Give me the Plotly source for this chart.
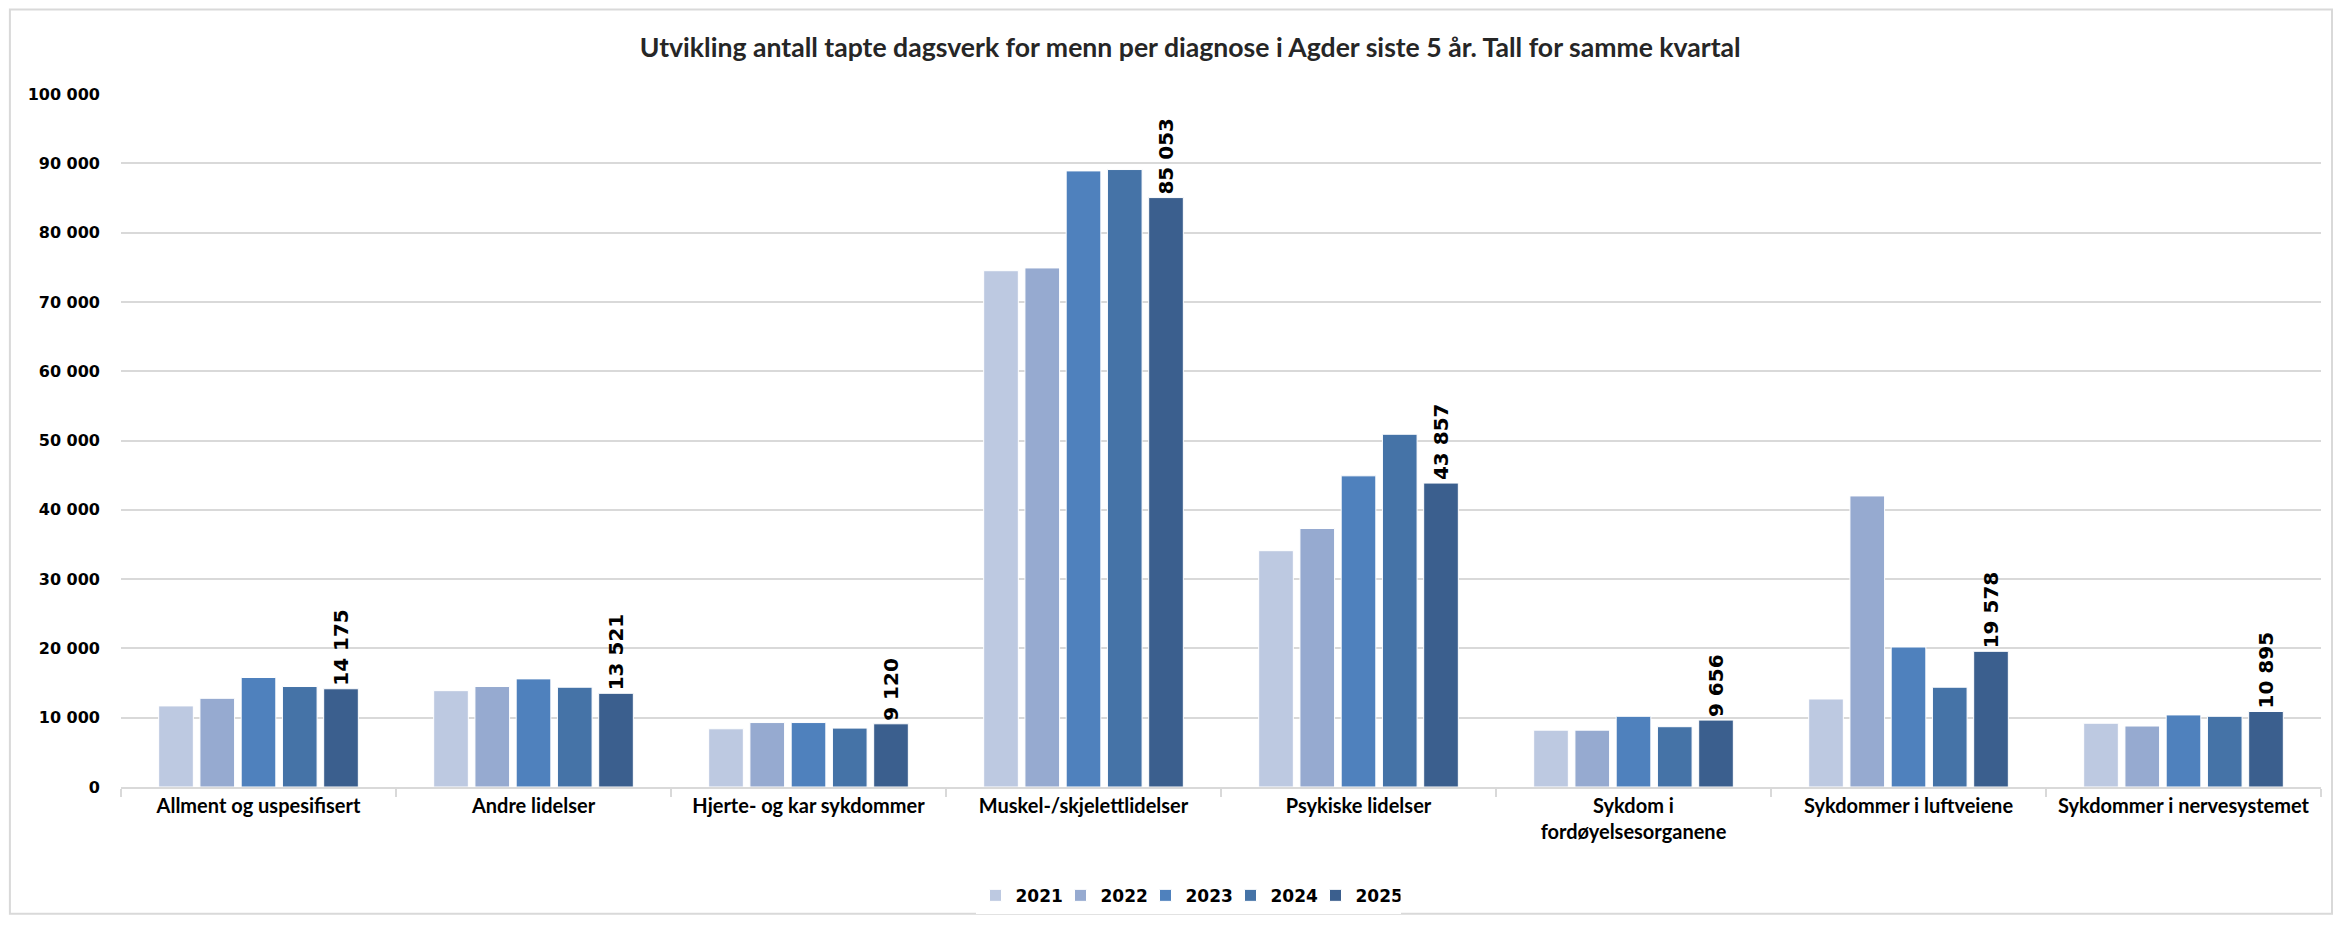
import plotly.graph_objects as go

# diagnosegrupper (x-akse)
kategorier = [
    "Allment og uspesifisert",
    "Andre lidelser",
    "Hjerte- og kar sykdommer",
    "Muskel-/skjelettlidelser",
    "Psykiske lidelser",
    "Sykdom i<br>fordøyelsesorganene",
    "Sykdommer i luftveiene",
    "Sykdommer i nervesystemet",
]

# tapte dagsverk per år
v2021 = [11700, 13900, 8400, 74500, 34100, 8200, 12700, 9200]
v2022 = [12800, 14500, 9300, 74900, 37300, 8200, 42000, 8800]
v2023 = [15800, 15600, 9300, 88900, 44900, 10200, 20200, 10400]
v2024 = [14500, 14400, 8500, 89100, 50900, 8700, 14400, 10200]
v2025 = [14175, 13521, 9120, 85053, 43857, 9656, 19578, 10895]

aar = ["2021", "2022", "2023", "2024", "2025"]
serier = [v2021, v2022, v2023, v2024, v2025]

FARGER = ["#BDC9E1", "#96AAD0", "#4F81BD", "#4573A7", "#3B5F8E"]
GRID = "#D9D9D9"
FONT = "Lato"
TALL_FONT = "DejaVu Sans"

fig = go.Figure()

for navn, verdier, farge in zip(aar, serier, FARGER):
    siste = navn == "2025"
    fig.add_trace(go.Bar(
        x=kategorier,
        y=verdier,
        name=navn,
        marker=dict(color=farge, line=dict(color="white", width=1)),
        texttemplate="%{y:,d}" if siste else None,
        textposition="outside" if siste else "none",
        textangle=-90,
        textfont=dict(family=TALL_FONT, size=20, color="black", weight="bold"),
        cliponaxis=False,
        constraintext="none",
    ))

# ramme rundt hele diagrammet
fig.add_shape(
    type="rect", xref="paper", yref="paper",
    x0=-0.0505, x1=1.005, y0=-0.183, y1=1.122,
    line=dict(color=GRID, width=2), layer="below",
)

fig.update_layout(
    title=dict(
        text="<b>Utvikling antall tapte dagsverk for menn per diagnose i Agder siste 5 år. Tall for samme kvartal</b>",
        x=0.505, xanchor="center", y=0.957, yanchor="middle",
        font=dict(family=FONT, size=26.6, color="#262626"),
    ),
    separators=", ",
    barmode="group",
    bargap=0.25,
    bargroupgap=0.16,
    width=2341,
    height=925,
    margin=dict(l=113, r=28, t=86, b=146),
    paper_bgcolor="white",
    plot_bgcolor="white",
    font=dict(family=FONT, size=18, color="black", weight="bold"),
    legend=dict(
        orientation="h",
        x=0.485, xanchor="center",
        y=-0.157, yanchor="middle",
        font=dict(family=TALL_FONT, size=17, weight="bold"),
        itemwidth=30,
        entrywidth=40,
        entrywidthmode="pixels",
        traceorder="normal",
    ),
)

fig.update_yaxes(
    range=[0, 100000],
    dtick=10000,
    tickformat=",d",
    showgrid=True,
    gridcolor=GRID,
    gridwidth=1.5,
    zeroline=False,
    ticks="",
    ticklabelstandoff=20,
    automargin=False,
    tickfont=dict(family=TALL_FONT, size=16, weight="bold"),
)

fig.update_xaxes(
    showline=True,
    linecolor=GRID,
    linewidth=2,
    ticks="outside",
    tickson="boundaries",
    ticklen=8,
    tickcolor=GRID,
    tickwidth=2,
    tickangle=0,
    automargin=False,
    tickfont=dict(family=FONT, size=20, weight="bold"),
)

fig.write_html("out.html")
